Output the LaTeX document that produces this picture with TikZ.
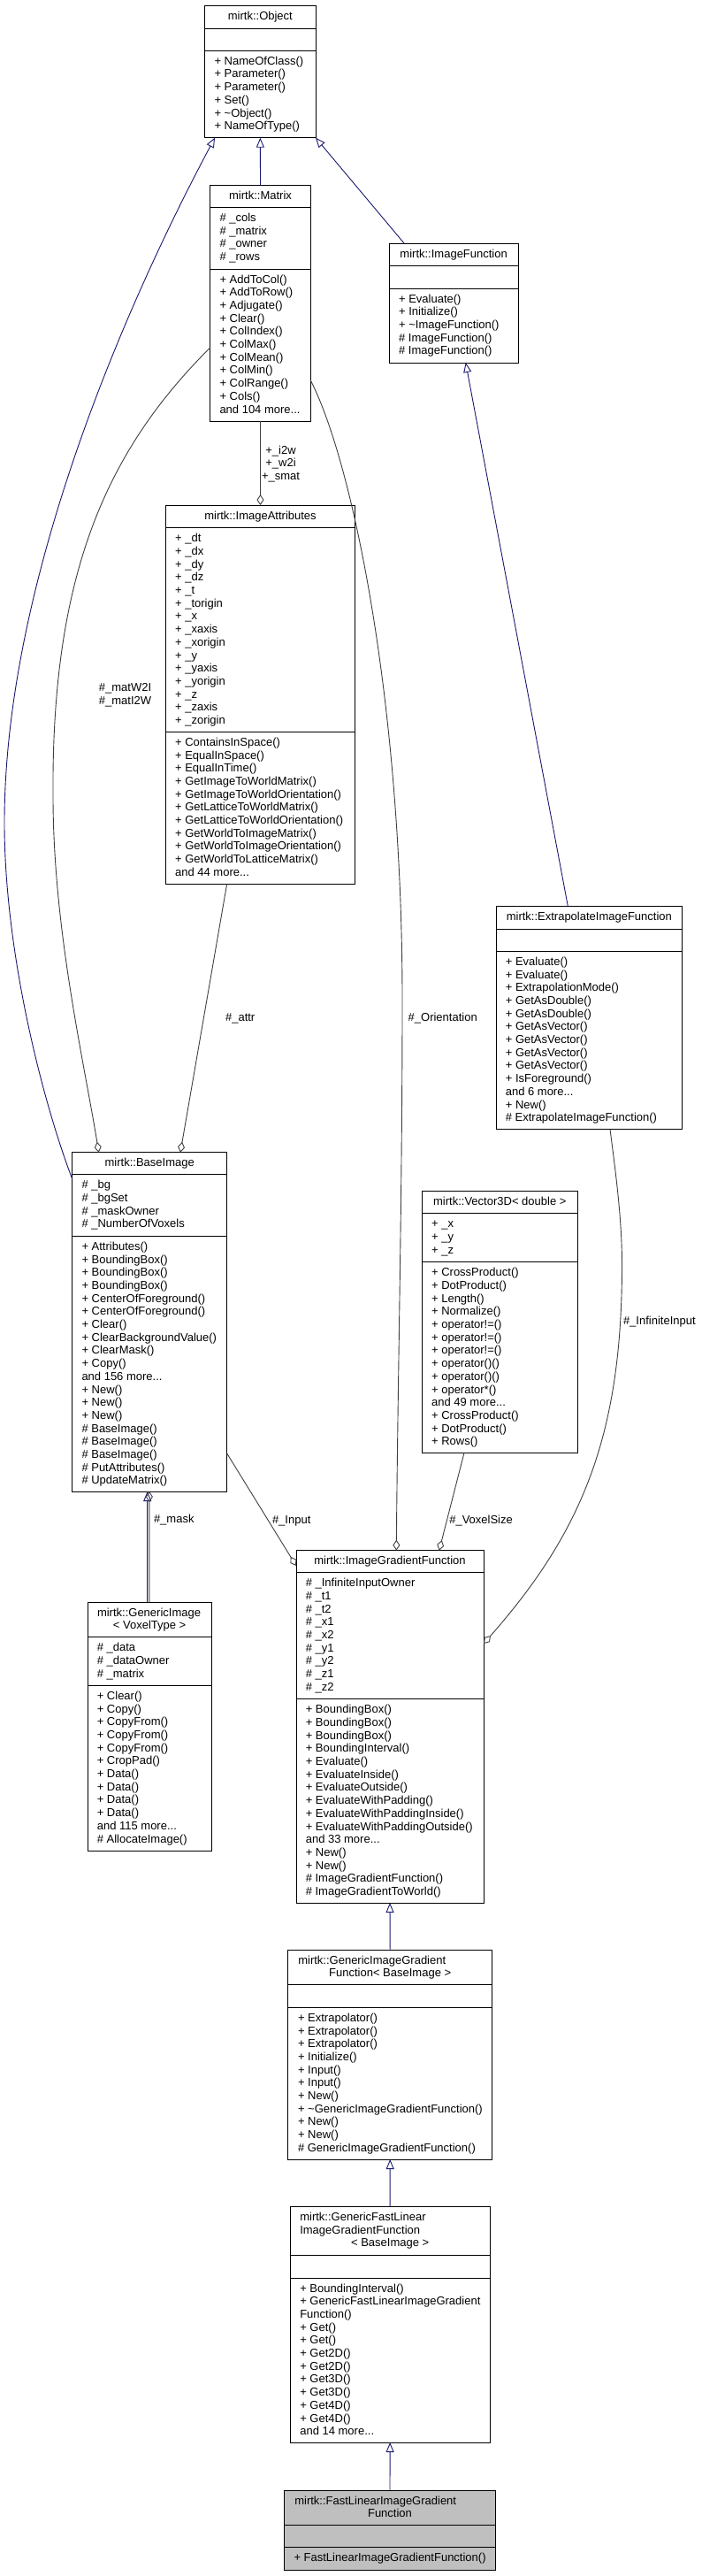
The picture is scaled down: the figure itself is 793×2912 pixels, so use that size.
\documentclass[tikz,border=0pt]{standalone}
\usepackage{fontspec}
\setmainfont{Liberation Sans}
\usetikzlibrary{arrows.meta,fit,calc}
\definecolor{inhblue}{HTML}{191970}
\definecolor{usegray}{HTML}{404040}
\definecolor{curgray}{HTML}{BFBFBF}
\tikzset{
 clsbox/.style={draw=black, line width=0.9pt, inner sep=0pt, outer sep=0pt},
 sepline/.style={draw=black, line width=0.9pt},
 txt/.style={anchor=base west, inner sep=0pt, outer sep=0pt, font=\fontsize{13}{14.7}\selectfont},
 txtc/.style={txt, anchor=base},
 inh/.style={draw=inhblue, line width=0.9pt, -{Triangle[open, length=11pt, width=9pt]}},
 agg/.style={draw=usegray, line width=0.9pt, -{Diamond[open, length=12pt, width=8pt]}},
}
\newcommand\mdots{...}
\newcommand\clsnode[6]{\node[clsbox, fill=#6, fit={(#2,#3) (#4,#5)}] (#1) {};}
\newcommand\hsep[2]{\draw[sepline] (#1.west |- 0,#2) -- (#1.east |- 0,#2);}
\newcommand\tlines[4]{\foreach \lbl [count=\cnt] in {#4}{\node[txt] (#1-\cnt) at (#2,{#3+(\cnt-1)*14.7}) {\lbl};}}
\begin{document}
\begin{tikzpicture}[x=1pt,y=-1pt]
\fill[white] (0,0) rectangle (793,2912);
\useasboundingbox (0,0) rectangle (793,2912);

% ---- mirtk::Object
\clsnode{obj}{231.7}{6.7}{357}{155.7}{white}
\hsep{obj}{32.3}\hsep{obj}{57.3}
\node[txtc] (obj-t) at (294.35,22.8) {mirtk::Object};
\tlines{objm}{242.5}{73.3}{+ NameOfClass(), + Parameter(), + Parameter(), + Set(), + \textasciitilde Object(), + NameOfType()}

% ---- mirtk::Matrix
\clsnode{mat}{237.7}{209.3}{351.3}{476}{white}
\hsep{mat}{234.3}\hsep{mat}{304}
\node[txtc] (mat-t) at (294.5,225.3) {mirtk::Matrix};
\tlines{mata}{248.5}{250.3}{\# \_cols, \# \_matrix, \# \_owner, \# \_rows}
\tlines{matm}{248.5}{320}{+ AddToCol(), + AddToRow(), + Adjugate(), + Clear(), + ColIndex(), + ColMax(), + ColMean(), + ColMin(), + ColRange(), + Cols(), and 104 more\mdots}

% ---- mirtk::ImageFunction
\clsnode{imf}{440.3}{275.3}{586}{410}{white}
\hsep{imf}{300.7}\hsep{imf}{326}
\node[txtc] (imf-t) at (513.15,291.3) {mirtk::ImageFunction};
\tlines{imfm}{451.1}{342}{+ Evaluate(), + Initialize(), + \textasciitilde ImageFunction(), \# ImageFunction(), \# ImageFunction()}

% ---- mirtk::ImageAttributes
\clsnode{ia}{187.3}{571}{401.7}{999}{white}
\hsep{ia}{596.7}\hsep{ia}{827.3}
\node[txtc] (ia-t) at (294.5,587) {mirtk::ImageAttributes};
\tlines{iaa}{198.1}{612.7}{+ \_dt, + \_dx, + \_dy, + \_dz, + \_t, + \_torigin, + \_x, + \_xaxis, + \_xorigin, + \_y, + \_yaxis, + \_yorigin, + \_z, + \_zaxis, + \_zorigin}
\tlines{iam}{198.1}{843.3}{+ ContainsInSpace(), + EqualInSpace(), + EqualInTime(), + GetImageToWorldMatrix(), + GetImageToWorldOrientation(), + GetLatticeToWorldMatrix(), + GetLatticeToWorldOrientation(), + GetWorldToImageMatrix(), + GetWorldToImageOrientation(), + GetWorldToLatticeMatrix(), and 44 more\mdots}

% ---- mirtk::ExtrapolateImageFunction
\clsnode{eif}{561}{1024.3}{771.7}{1276.7}{white}
\hsep{eif}{1050.3}\hsep{eif}{1075.3}
\node[txtc] (eif-t) at (666.35,1040.3) {mirtk::ExtrapolateImageFunction};
\tlines{eifm}{571.8}{1091.3}{+ Evaluate(), + Evaluate(), + ExtrapolationMode(), + GetAsDouble(), + GetAsDouble(), + GetAsVector(), + GetAsVector(), + GetAsVector(), + GetAsVector(), + IsForeground(), and 6 more\mdots, + New(), \# ExtrapolateImageFunction()}

% ---- mirtk::BaseImage
\clsnode{bi}{81.7}{1302.7}{256.7}{1686}{white}
\hsep{bi}{1327.7}\hsep{bi}{1397.3}
\node[txtc] (bi-t) at (169.2,1318.7) {mirtk::BaseImage};
\tlines{bia}{92.5}{1343.7}{\# \_bg, \# \_bgSet, \# \_maskOwner, \# \_NumberOfVoxels}
\tlines{bim}{92.5}{1413.3}{+ Attributes(), + BoundingBox(), + BoundingBox(), + BoundingBox(), + CenterOfForeground(), + CenterOfForeground(), + Clear(), + ClearBackgroundValue(), + ClearMask(), + Copy(), and 156 more\mdots, + New(), + New(), + New(), \# BaseImage(), \# BaseImage(), \# BaseImage(), \# PutAttributes(), \# UpdateMatrix()}

% ---- mirtk::Vector3D< double >
\clsnode{v3}{477.3}{1346.7}{653.3}{1642.3}{white}
\hsep{v3}{1371.7}\hsep{v3}{1426.7}
\node[txtc] (v3-t) at (565.3,1362.7) {mirtk::Vector3D< double >};
\tlines{v3a}{488.1}{1387.7}{+ \_x, + \_y, + \_z}
\tlines{v3m}{488.1}{1442.7}{+ CrossProduct(), + DotProduct(), + Length(), + Normalize(), + operator!=(), + operator!=(), + operator!=(), + operator()(), + operator()(), + operator*(), and 49 more\mdots, + CrossProduct(), + DotProduct(), + Rows()}

% ---- mirtk::GenericImage< VoxelType >
\clsnode{gi}{99}{1811}{239.3}{2092.3}{white}
\hsep{gi}{1850.7}\hsep{gi}{1905.3}
\node[txt] (gi-t1) at (110,1827) {mirtk::GenericImage};
\node[txtc] (gi-t2) at (169.15,1841.7) {< VoxelType >};
\tlines{gia}{109.8}{1866.7}{\# \_data, \# \_dataOwner, \# \_matrix}
\tlines{gim}{109.8}{1921.3}{+ Clear(), + Copy(), + CopyFrom(), + CopyFrom(), + CopyFrom(), + CropPad(), + Data(), + Data(), + Data(), + Data(), and 115 more\mdots, \# AllocateImage()}

% ---- mirtk::ImageGradientFunction
\clsnode{igf}{335}{1752.7}{547}{2151}{white}
\hsep{igf}{1777.7}\hsep{igf}{1920.7}
\node[txtc] (igf-t) at (441,1768.7) {mirtk::ImageGradientFunction};
\tlines{igfa}{345.8}{1793.7}{\# \_InfiniteInputOwner, \# \_t1, \# \_t2, \# \_x1, \# \_x2, \# \_y1, \# \_y2, \# \_z1, \# \_z2}
\tlines{igfm}{345.8}{1936.7}{+ BoundingBox(), + BoundingBox(), + BoundingBox(), + BoundingInterval(), + Evaluate(), + EvaluateInside(), + EvaluateOutside(), + EvaluateWithPadding(), + EvaluateWithPaddingInside(), + EvaluateWithPaddingOutside(), and 33 more\mdots, + New(), + New(), \# ImageGradientFunction(), \# ImageGradientToWorld()}

% ---- mirtk::GenericImageGradientFunction< BaseImage >
\clsnode{gig}{325.7}{2204}{556.7}{2441}{white}
\hsep{gig}{2243.3}\hsep{gig}{2269.3}
\node[txt] (gig-t1) at (337.3,2220) {mirtk::GenericImageGradient};
\node[txtc] (gig-t2) at (441.2,2234.7) {Function< BaseImage >};
\tlines{gigm}{337}{2285.3}{+ Extrapolator(), + Extrapolator(), + Extrapolator(), + Initialize(), + Input(), + Input(), + New(), + \textasciitilde GenericImageGradientFunction(), + New(), + New(), \# GenericImageGradientFunction()}

% ---- mirtk::GenericFastLinearImageGradientFunction< BaseImage >
\clsnode{gfl}{328.3}{2494.3}{554}{2761}{white}
\hsep{gfl}{2549}\hsep{gfl}{2575}
\node[txt] (gfl-t1) at (339.3,2510.3) {mirtk::GenericFastLinear};
\node[txt] (gfl-t2) at (339.3,2525) {ImageGradientFunction};
\node[txtc] (gfl-t3) at (441.2,2539.7) {< BaseImage >};
\tlines{gflm}{339.3}{2591}{+ BoundingInterval(), + GenericFastLinearImageGradient, Function(), + Get(), + Get(), + Get2D(), + Get2D(), + Get3D(), + Get3D(), + Get4D(), + Get4D(), and 14 more\mdots}

% ---- mirtk::FastLinearImageGradientFunction
\clsnode{fl}{321.7}{2815}{560.3}{2905}{curgray}
\hsep{fl}{2854.3}\hsep{fl}{2879.7}
\node[txt] (fl-t1) at (333.3,2831) {mirtk::FastLinearImageGradient};
\node[txtc] (fl-t2) at (441,2845.7) {Function};
\tlines{flm}{332.5}{2895.7}{+ FastLinearImageGradientFunction()}

% ================= connectors
\draw[inh] (mat.north) -- (obj.south);
\draw[inh] ($(imf.north west)+(17,0)$) -- (obj.south east);
\draw[inh] ($(bi.north west)+(0,30)$) .. controls (50,1250) and (5,1080) .. (5,930)
   .. controls (5,650) and (150,330) .. ($(obj.south west)+(11.3,0)$);
\draw[inh] ($(eif.north west)+(81.3,0)$) -- ($(imf.south west)+(86.4,0)$);

\draw[agg] (mat.south) -- (ia.north);
\node[txtc] (l-i2w) at (317.5,513.5) {+\_i2w};
\node[txtc] (l-w2i) at (317.5,527.9) {+\_w2i};
\node[txtc] (l-smat) at (317.5,542.3) {+\_smat};

\draw[agg] ($(mat.north west)+(0,183.7)$) .. controls (120,510) and (58,650) .. (60,900)
   .. controls (60,1050) and (95,1200) .. ($(bi.north west)+(30,0)$);
\node[txtc] (l-w2l) at (141.5,781) {\#\_matW2I};
\node[txtc] (l-i2wm) at (141.5,796) {\#\_matI2W};

\draw[agg] ($(ia.south west)+(69.4,0)$) -- ($(bi.north west)+(122.3,0)$);
\node[txtc] (l-attr) at (271.7,1154) {\#\_attr};

\draw[inh] ($(gi.north)+(-2.5,0)$) -- ($(bi.south)+(-2.5,0)$);
\draw[agg] ($(gi.north)+(-0.3,0)$) -- ($(bi.south)+(-0.3,0)$);
\node[txt] (l-mask) at (174,1721.8) {\#\_mask};

\draw[agg] ($(bi.north east)+(0,340.3)$) -- ($(igf.north west)+(0,17.3)$);
\node[txt] (l-input) at (308,1722.8) {\#\_Input};

\draw[agg] ($(mat.north east)+(0,220.7)$) .. controls (400,525) and (455,800) .. (455,1130)
   .. controls (455,1350) and (450,1550) .. ($(igf.north west)+(113.3,0)$);
\node[txt] (l-orient) at (461.7,1154.5) {\#\_Orientation};

\draw[agg] ($(v3.south west)+(47.7,0)$) -- ($(igf.north west)+(161.7,0)$);
\node[txt] (l-voxel) at (508.3,1722.8) {\#\_VoxelSize};

\draw[agg] ($(eif.south west)+(129,0)$) .. controls (697,1330) and (703.5,1380) .. (703.5,1430)
   .. controls (703.5,1620) and (660,1730) .. ($(igf.north east)+(0,105.3)$);
\node[txt] (l-inf) at (705,1497.8) {\#\_InfiniteInput};

\draw[inh] (gig.north) -- (igf.south);
\draw[inh] (gfl.north) -- (gig.south);
\draw[inh] (fl.north) -- (gfl.south);
\end{tikzpicture}
\end{document}
